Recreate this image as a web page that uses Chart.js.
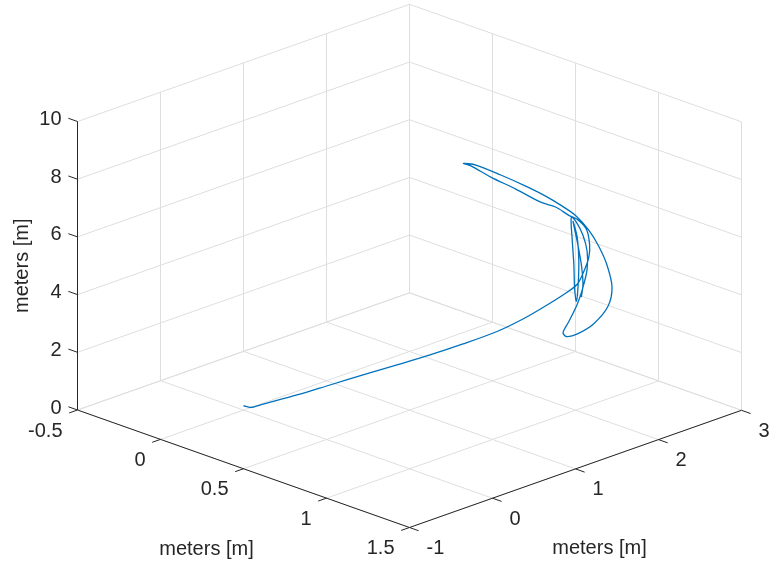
<!DOCTYPE html>
<html><head><meta charset="utf-8">
<script src="https://cdn.jsdelivr.net/npm/chart.js@4/dist/chart.umd.min.js"></script>
<style>html,body{margin:0;padding:0;background:#fff;overflow:hidden}canvas{display:block}</style>
</head><body>
<canvas id="c" width="773" height="563"></canvas>
<script>
// ---- axis ticks ----
const xTicks = [-0.5, 0, 0.5, 1, 1.5];
const yTicks = [-1, 0, 1, 2, 3];
const zTicks = [0, 2, 4, 6, 8, 10];
const xTickLabels = ['-0.5', '0', '0.5', '1', '1.5'];
const yTickLabels = ['-1', '0', '1', '2', '3'];
const zTickLabels = ['0', '2', '4', '6', '8', '10'];
const xTitle = 'meters [m]';
const yTitle = 'meters [m]';
const zTitle = 'meters [m]';

// ---- trajectory (x, y, z in meters) ----
const trajX = [0, 0.02, 0.045, 0.12, 0.195, 0.27, 0.345, 0.42, 0.495, 0.57, 0.63, 0.685, 0.72, 0.75,
  0.75, 0.75, 0.75, 0.75, 0.75, 0.75, 0.75, 0.75, 0.75, 0.75, 0.75, 0.75,
  0.75, 0.75, 0.75, 0.75, 0.75, 0.75, 0.75, 0.75, 0.75, 0.75, 0.75, 0.75, 0.75, 0.75, 0.75,
  0.75, 0.75, 0.75, 0.75, 0.75, 0.75, 0.75, 0.75,
  0.75, 0.75, 0.75, 0.75, 0.75, 0.75, 0.75, 0.75, 0.75, 0.75, 0.75, 0.75];
const trajY = [0, 0.05, 0.145, 0.405, 0.652, 0.90, 1.159, 1.407, 1.655, 1.914, 2.107, 2.287, 2.409, 2.518,
  2.60, 2.66, 2.67, 2.63, 2.52, 2.42, 2.26, 2.08, 1.78, 1.48, 1.24, 1.15,
  1.30, 1.60, 1.90, 2.14, 2.34, 2.51, 2.66, 2.78, 2.88, 2.94, 2.89, 2.72, 2.53, 2.39, 2.35,
  2.42, 2.52, 2.59, 2.64, 2.64, 2.59, 2.51, 2.45,
  2.46, 2.48, 2.49, 2.51, 2.53, 2.54, 2.52, 2.47, 2.52, 2.57, 2.59, 2.57];
const trajZ = [0.15, 0.08, 0.15, 0.356, 0.604, 0.852, 1.088, 1.336, 1.618, 1.94, 2.30, 2.714, 3.009, 3.323,
  3.69, 4.12, 4.56, 5.13, 5.58, 5.82, 6.27, 6.62, 7.38, 8.10, 8.73, 8.91,
  8.70, 8.05, 7.36, 6.77, 6.22, 5.70, 5.06, 4.38, 3.62, 2.80, 2.18, 1.76, 1.61, 1.65, 1.83,
  2.14, 2.63, 3.15, 3.73, 4.35, 4.96, 5.49, 5.73,
  4.95, 4.06, 3.18, 2.75, 3.21, 4.10, 4.96, 5.56, 4.82, 3.97, 3.25, 2.83];

// ---- 3D view (orthographic projection onto the chart's linear scales) ----
const xMin = xTicks[0], xMax = xTicks[xTicks.length - 1];
const yMin = yTicks[0], yMax = yTicks[yTicks.length - 1];
const zMin = zTicks[0], zMax = zTicks[zTicks.length - 1];
const VIEW = { ox: 77.5, oy: 410, ex: [166, 58.75], ey: [83, -29.3], ez: [0, -28.85] };
function proj(x, y, z) {
  const a = x - xMin, b = y - yMin, c = z - zMin;
  return { x: VIEW.ox + a * VIEW.ex[0] + b * VIEW.ey[0] + c * VIEW.ez[0],
           y: VIEW.oy + a * VIEW.ex[1] + b * VIEW.ey[1] + c * VIEW.ez[1] };
}
function seg(p, q) { return [proj(p[0], p[1], p[2]), proj(q[0], q[1], q[2])]; }

const GRID = '#dedede', AXIS = '#262626', LINE = '#0072BD';
const datasets = [];
function addLine(pts, color, width, order) {
  datasets.push({ data: pts, showLine: true, borderColor: color, borderWidth: width,
    pointRadius: 0, fill: false, tension: 0, order: order });
}
// grid: floor
xTicks.forEach(t => addLine(seg([t, yMin, zMin], [t, yMax, zMin]), GRID, 1, 3));
yTicks.forEach(t => addLine(seg([xMin, t, zMin], [xMax, t, zMin]), GRID, 1, 3));
// grid: wall x = xMin
yTicks.forEach(t => addLine(seg([xMin, t, zMin], [xMin, t, zMax]), GRID, 1, 3));
zTicks.forEach(t => addLine(seg([xMin, yMin, t], [xMin, yMax, t]), GRID, 1, 3));
// grid: wall y = yMax
xTicks.forEach(t => addLine(seg([t, yMax, zMin], [t, yMax, zMax]), GRID, 1, 3));
zTicks.forEach(t => addLine(seg([xMin, yMax, t], [xMax, yMax, t]), GRID, 1, 3));
// axes
addLine(seg([xMin, yMin, zMin], [xMin, yMin, zMax]), AXIS, 1, 2);
addLine(seg([xMin, yMin, zMin], [xMax, yMin, zMin]), AXIS, 1, 2);
addLine(seg([xMax, yMin, zMin], [xMax, yMax, zMin]), AXIS, 1, 2);
// tick marks (outward)
zTicks.forEach(t => addLine(seg([xMin, yMin, t], [xMin - 0.055, yMin, t]), AXIS, 1, 2));
xTicks.forEach(t => addLine(seg([t, yMin, zMin], [t, yMin - 0.1, zMin]), AXIS, 1, 2));
yTicks.forEach(t => addLine(seg([xMax, t, zMin], [xMax + 0.055, t, zMin]), AXIS, 1, 2));
// trajectory
datasets.push({ data: trajX.map((v, i) => proj(v, trajY[i], trajZ[i])), showLine: true,
  borderColor: LINE, borderWidth: 1.3, pointRadius: 0, fill: false, tension: 0.3, order: 0 });

const FONT = '20px "Liberation Sans", Arial, sans-serif';
const labelsPlugin = {
  id: 'labels3d',
  afterDatasetsDraw(chart) {
    const ctx = chart.ctx, sx = chart.scales.x, sy = chart.scales.y;
    const px = p => ({ x: sx.getPixelForValue(p.x), y: sy.getPixelForValue(p.y) });
    ctx.save();
    ctx.fillStyle = AXIS;
    ctx.font = FONT;
    ctx.textBaseline = 'middle';
    // z labels
    ctx.textAlign = 'right';
    zTicks.forEach((t, i) => { const p = px(proj(xMin, yMin, t)); ctx.fillText(zTickLabels[i], p.x - 16, p.y - 2); });
    // x labels
    xTicks.forEach((t, i) => { const p = px(proj(t, yMin, zMin)); ctx.fillText(xTickLabels[i], p.x - 15, p.y + 21); });
    // y labels
    ctx.textAlign = 'left';
    yTicks.forEach((t, i) => { const p = px(proj(xMax, t, zMin)); ctx.fillText(yTickLabels[i], p.x + 17, p.y + 21); });
    // titles
    ctx.textAlign = 'center';
    let p = px(proj((xMin + xMax) / 2, yMin, zMin));
    ctx.fillText(xTitle, p.x - 37, p.y + 81);
    p = px(proj(xMax, (yMin + yMax) / 2, zMin));
    ctx.fillText(yTitle, p.x + 24, p.y + 80);
    p = px(proj(xMin, yMin, (zMin + zMax) / 2));
    ctx.translate(p.x - 55, p.y);
    ctx.rotate(-Math.PI / 2);
    ctx.fillText(zTitle, 0, 0);
    ctx.restore();
  }
};

new Chart(document.getElementById('c'), {
  type: 'scatter',
  data: { datasets },
  options: {
    responsive: false, animation: false, devicePixelRatio: 1,
    layout: { padding: 0 },
    plugins: { legend: { display: false }, tooltip: { enabled: false }, title: { display: false } },
    scales: {
      x: { type: 'linear', min: 0, max: 773, display: false },
      y: { type: 'linear', min: 0, max: 563, reverse: true, display: false }
    }
  },
  plugins: [labelsPlugin]
});
</script>
</body></html>
